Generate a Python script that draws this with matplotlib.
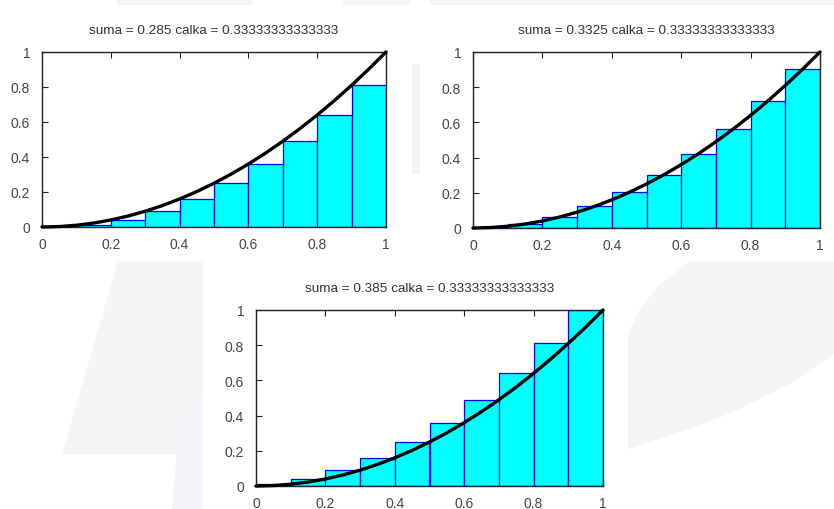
import matplotlib
matplotlib.use("Agg")
import matplotlib.pyplot as plt
from matplotlib.patches import Polygon

plt.rcParams['font.family'] = ['Liberation Sans', 'DejaVu Sans']

# przedziały [0, 1] podzielone na 10 części
lewe_krawedzie = [0.0, 0.1, 0.2, 0.3, 0.4, 0.5, 0.6, 0.7, 0.8, 0.9]
szerokosc = 0.1

# wysokości prostokątów: lewy koniec, środek, prawy koniec
wys_lewe = [0.0, 0.01, 0.04, 0.09, 0.16, 0.25, 0.36, 0.49, 0.64, 0.81]
wys_srodek = [0.0025, 0.0225, 0.0625, 0.1225, 0.2025, 0.3025, 0.4225, 0.5625, 0.7225, 0.9025]
wys_prawe = [0.01, 0.04, 0.09, 0.16, 0.25, 0.36, 0.49, 0.64, 0.81, 1.0]

# funkcja f(x) = x^2 w punktach co 0.05
krzywa_x = [0.0, 0.05, 0.1, 0.15, 0.2, 0.25, 0.3, 0.35, 0.4, 0.45, 0.5,
            0.55, 0.6, 0.65, 0.7, 0.75, 0.8, 0.85, 0.9, 0.95, 1.0]
krzywa_y = [0.0, 0.0025, 0.01, 0.0225, 0.04, 0.0625, 0.09, 0.1225, 0.16, 0.2025, 0.25,
            0.3025, 0.36, 0.4225, 0.49, 0.5625, 0.64, 0.7225, 0.81, 0.9025, 1.0]

tytuly = ["suma = 0.285 calka = 0.33333333333333",
          "suma = 0.3325 calka = 0.33333333333333",
          "suma = 0.385 calka = 0.33333333333333"]

ticks = [0, 0.2, 0.4, 0.6, 0.8, 1]
tick_labels = ["0", "0.2", "0.4", "0.6", "0.8", "1"]

W, H = 834, 510
fig = plt.figure(figsize=(W / 100, H / 100), dpi=100)


def px(x0, y0, x1, y1):
    # prostokąt w pikselach (od góry) -> współrzędne figury
    return [x0 / W, 1 - y1 / H, (x1 - x0) / W, (y1 - y0) / H]


def wielokat(punkty, kolor):
    # blady kształt tła, punkty w pikselach od góry
    pts = [(x / W, 1 - y / H) for x, y in punkty]
    fig.patches.append(Polygon(pts, closed=True, transform=fig.transFigure,
                               facecolor=kolor, edgecolor="none", zorder=0))


tlo_rozowe = "#F7F4F4"
tlo_niebieskie = "#F4F4F8"
wielokat([(62, 455), (118, 262), (203, 262), (203, 455)], tlo_rozowe)
wielokat([(172, 510), (182, 390), (203, 390), (203, 510)], tlo_niebieskie)
# łuk po prawej stronie
wielokat([(628, 450), (628, 335), (640, 310), (660, 285), (690, 262), (834, 262),
          (834, 355), (790, 385), (740, 410), (690, 430)], tlo_rozowe)
wielokat([(412, 175), (412, 65), (420, 65), (420, 175)], "#F5F3F3")
wielokat([(117, 0), (253, 0), (253, 6), (117, 6)], "#F6F3F3")
wielokat([(343, 0), (410, 0), (410, 6), (343, 6)], "#F3F6F3")
wielokat([(430, 0), (834, 0), (834, 6), (430, 6)], "#F6F3F3")

pozycje = [px(42, 53, 386, 228), px(473, 53, 820, 229), px(256, 311, 603, 487)]
wysokosci = [wys_lewe, wys_srodek, wys_prawe]

for poz, wys, tytul in zip(pozycje, wysokosci, tytuly):
    ax = fig.add_axes(poz)
    ax.bar(lewe_krawedzie, wys, width=szerokosc, align='edge',
           color="#00FFFF", edgecolor="#0000FF", linewidth=0.9, zorder=2)
    ax.plot(krzywa_x, krzywa_y, color="black", linewidth=2.4, zorder=3,
            solid_capstyle='round', clip_on=False)
    ax.set_xlim(0, 1)
    ax.set_ylim(0, 1)
    ax.set_xticks(ticks)
    ax.set_xticklabels(tick_labels)
    ax.set_yticks(ticks)
    ax.set_yticklabels(tick_labels)
    ax.tick_params(direction='in', top=True, right=True, length=4,
                   labelsize=10, labelcolor="#444444", color="#222222")
    ax.tick_params(axis='y', pad=8.5)
    ax.tick_params(axis='x', pad=7)
    for s in ax.spines.values():
        s.set_color("#222222")
        s.set_linewidth(1.0)
    ax.set_title(tytul, fontsize=9.7, color="#333333", pad=14)

fig.savefig("out.png", dpi=100, facecolor="white")
